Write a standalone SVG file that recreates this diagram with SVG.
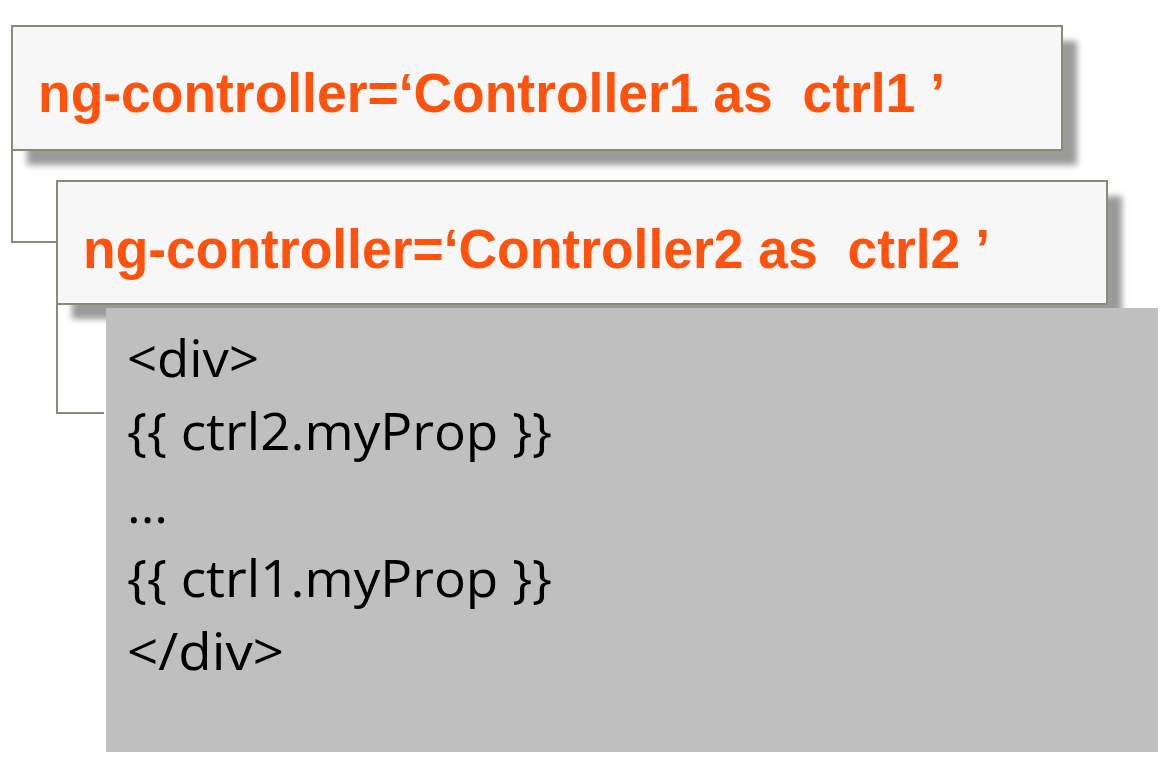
<svg xmlns="http://www.w3.org/2000/svg" width="1169" height="764" viewBox="0 0 1169 764">
<defs>
<filter id="sh" x="-5%" y="-20%" width="115%" height="150%">
<feGaussianBlur stdDeviation="3"/>
</filter>
<style>
.box{fill:#f7f7f7;stroke:#8c8a76;stroke-width:2}
.shadow{fill:#9a9a9a;filter:url(#sh)}
.conn{fill:none;stroke:#8c8a76;stroke-width:2}
.lbl{font-family:"Liberation Sans",Arial,sans-serif;font-weight:bold;font-size:56px;fill:#ff520d;white-space:pre}
.code{font-family:"Open Sans","Liberation Sans",sans-serif;font-size:52px;fill:#000}
</style>
</defs>
<rect width="1169" height="764" fill="#fff"/>
<g id="connectors">
<path class="conn" d="M12 150 V242 H57"/>
<path class="conn" d="M57 304 V413 H104"/>
</g>
<g id="node1">
<rect class="shadow" x="27" y="41" width="1050" height="124"/>
<rect class="box" x="12" y="26" width="1050" height="124"/>
<text class="lbl" x="38" y="112" textLength="907" lengthAdjust="spacingAndGlyphs" xml:space="preserve">ng-controller=‘Controller1 as  ctrl1 ’</text>
</g>
<g id="node2">
<rect class="shadow" x="72" y="196" width="1050" height="123"/>
<rect class="box" x="57" y="181" width="1050" height="123"/>
<text class="lbl" x="83" y="268" textLength="907" lengthAdjust="spacingAndGlyphs" xml:space="preserve">ng-controller=‘Controller2 as  ctrl2 ’</text>
</g>
<g id="code">
<rect x="106" y="308" width="1052" height="444" fill="#bfbfbf"/>
<text class="code" x="127" y="377" textLength="132" lengthAdjust="spacingAndGlyphs">&lt;div&gt;</text>
<text class="code" x="127" y="450" textLength="425" lengthAdjust="spacingAndGlyphs">{{ ctrl2.myProp }}</text>
<text class="code" x="127" y="523">...</text>
<text class="code" x="127" y="597" textLength="425" lengthAdjust="spacingAndGlyphs">{{ ctrl1.myProp }}</text>
<text class="code" x="127" y="670" textLength="157" lengthAdjust="spacingAndGlyphs">&lt;/div&gt;</text>
</g>
</svg>
